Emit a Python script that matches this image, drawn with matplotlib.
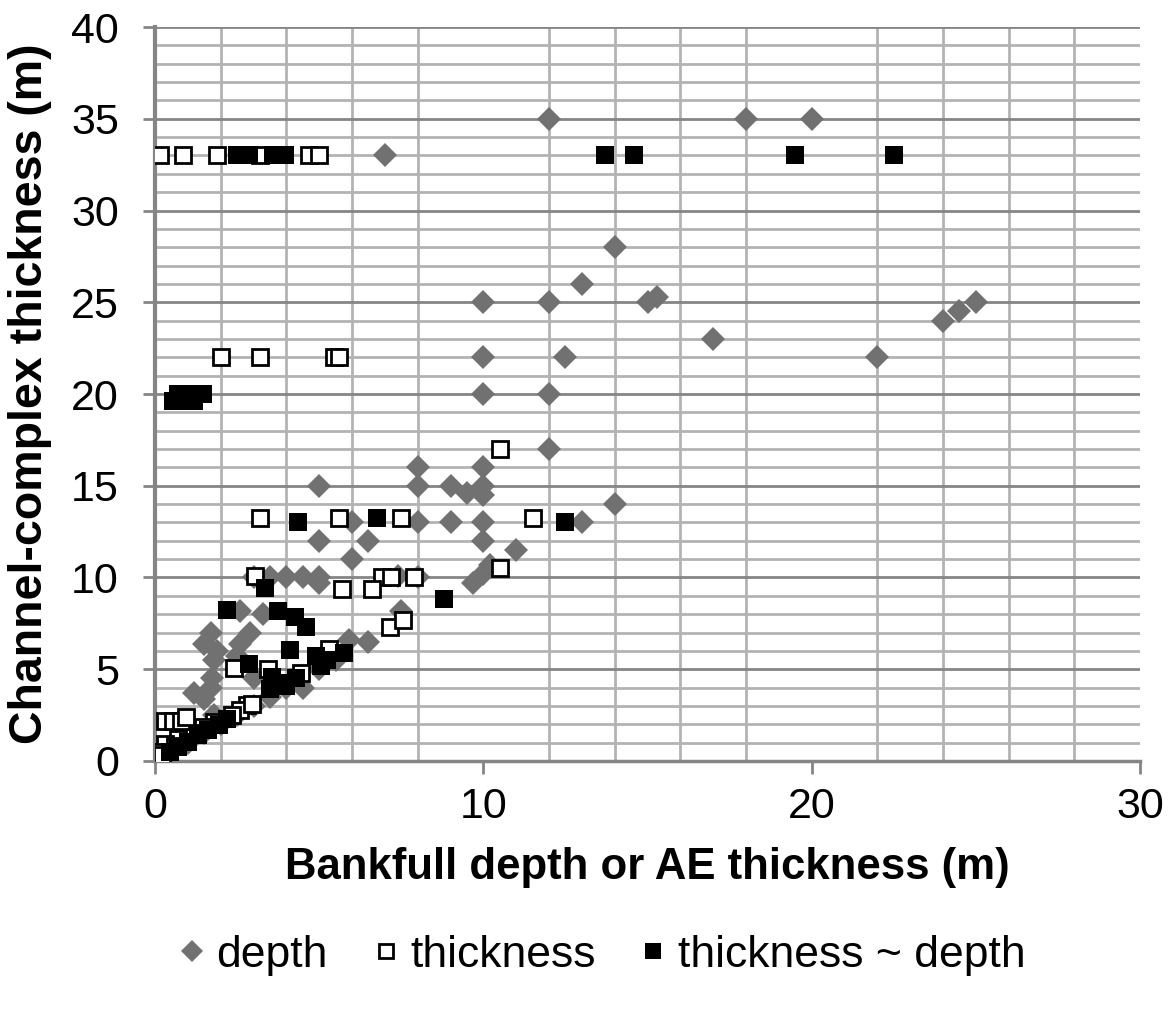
#!/usr/bin/env python3
import matplotlib
matplotlib.use('Agg')
import matplotlib.pyplot as plt
from matplotlib.ticker import MultipleLocator

# depth (grey diamonds)
depth_x = [12, 18, 20, 7, 14, 13, 10, 12, 15, 15.3, 24, 24.5, 25, 17, 10, 12.5, 22,
           10, 12, 12, 8, 10, 5, 8, 9, 9.5, 10, 10, 14, 6, 8, 9, 10, 13, 5, 6.5, 10,
           6, 11, 10.2, 10, 9.7, 3, 3.5, 4, 4.5, 5, 5, 7.4, 8, 7.5, 2.6, 3.3, 1.7,
           2.9, 1.5, 1.9, 2.6, 2.5, 1.8, 1.75, 3.0, 1.2, 1.5, 1.7, 5.9, 6.5, 4.5, 5,
           5.5, 0.2, 0.5, 1, 1.5, 2, 2.5, 3, 3.5, 4, 1.8]
depth_y = [35, 35, 35, 33, 28, 26, 25, 25, 25, 25.3, 24, 24.5, 25, 23, 22, 22, 22,
           20, 20, 17, 16, 16, 15, 15, 15, 14.6, 15, 14.5, 14, 13, 13, 13, 13, 13, 12, 12, 12,
           11, 11.5, 10.7, 10.2, 9.7, 10, 10, 10, 10, 10, 9.7, 10.1, 10, 8.2, 8.2, 8.0, 7.0,
           7.0, 6.4, 6.0, 6.4, 5.7, 5.5, 4.5, 4.5, 3.7, 3.4, 4.0, 6.6, 6.5, 4.0, 5,
           5.5, 0.4, 0.5, 1, 1.5, 2, 2.5, 3, 3.5, 4, 2.5]

# thickness (open squares)
thick_x = [0.15, 0.85, 1.9, 3.2, 4.7, 5.0, 2.0, 3.2, 5.45, 5.6, 10.5, 3.2, 5.6, 7.5,
           11.5, 10.5, 3.05, 6.9, 7.2, 7.9, 5.7, 6.6, 7.15, 7.55, 2.4, 3.45, 5.3, 4.45,
           2.8, 2.6, 2.95, 2.35, 1.8, 1.45, 1.1, 0.7, 0.3, 0.15, 0.2, 0.6, 0.3, 0.55,
           0.8, 0.95]
thick_y = [33, 33, 33, 33, 33, 33, 22, 22, 22, 22, 17, 13.25, 13.25, 13.25,
           13.25, 10.5, 10.1, 10, 10, 10, 9.35, 9.35, 7.3, 7.7, 5.05, 5.0, 6.1, 4.8,
           3.05, 2.8, 3.1, 2.5, 2.1, 1.85, 1.55, 1.2, 0.95, 0.5, 0.3, 0.8, 2.2, 2.2,
           2.2, 2.4]

# thickness ~ depth (black squares)
td_x = [2.5, 2.85, 3.6, 3.95, 13.7, 14.6, 19.5, 22.5, 0.55, 0.7, 0.9, 1.0, 1.2, 1.3,
        1.45, 4.35, 6.75, 12.5, 8.8, 3.35, 2.2, 3.75, 4.25, 4.6, 4.1, 2.85, 4.9, 5.25,
        5.75, 5.05, 3.55, 3.85, 4.3, 3.5, 4.0, 0.45, 0.7, 1.0, 1.3, 1.6, 1.95, 2.2]
td_y = [33, 33, 33, 33, 33, 33, 33, 33, 19.6, 20, 19.6, 20, 19.6, 20,
        20, 13, 13.25, 13, 8.85, 9.4, 8.25, 8.2, 7.85, 7.3, 6.05, 5.3, 5.7, 5.5,
        5.9, 5.15, 4.6, 4.25, 4.5, 3.9, 4.1, 0.5, 0.75, 1.05, 1.4, 1.7, 1.95, 2.3]

plt.rcParams['font.family'] = ['Liberation Sans', 'DejaVu Sans']

fig = plt.figure(figsize=(11.69, 10.13), dpi=100)
ax = fig.add_axes([0.1326, 0.2488, 0.8426, 0.7245])

ax.plot(depth_x, depth_y, 'D', color='#717171', markersize=12.7, markeredgewidth=0,
        label='depth', zorder=3)
ax.plot(thick_x, thick_y, 's', markerfacecolor='white', markeredgecolor='black',
        markersize=11.5, markeredgewidth=2.0, label='thickness', zorder=4)
ax.plot(td_x, td_y, 's', color='black', markersize=13, markeredgewidth=0,
        label='thickness ~ depth', zorder=5)

ax.set_xlim(0, 30)
ax.set_ylim(0, 40)
ax.xaxis.set_major_locator(MultipleLocator(10))
ax.xaxis.set_minor_locator(MultipleLocator(2))
ax.yaxis.set_major_locator(MultipleLocator(5))
ax.yaxis.set_minor_locator(MultipleLocator(1))

ax.grid(which='minor', axis='both', color='#b3b3b3', linewidth=2.0, zorder=0)
ax.grid(which='major', axis='y', color='#858585', linewidth=2.0, zorder=1)
ax.set_axisbelow(True)

for side in ['top', 'right']:
    ax.spines[side].set_visible(False)
ax.spines['left'].set_color('#858585')
ax.spines['left'].set_linewidth(3)
ax.spines['bottom'].set_color('#858585')
ax.spines['bottom'].set_linewidth(2.5)

ax.tick_params(which='major', axis='both', direction='out', length=9, width=2,
               color='#858585', labelsize=31)
ax.tick_params(which='minor', length=0)
ax.tick_params(axis='y', pad=17)
ax.tick_params(axis='x', pad=10)

ax.set_xlabel('Bankfull depth or AE thickness (m)', fontsize=31.5, fontweight='bold',
              labelpad=14)
ax.set_ylabel('Channel-complex thickness (m)', fontsize=33.5, fontweight='bold',
              labelpad=14)

fig.legend(loc='center', bbox_to_anchor=(0.515, 1 - 955 / 1013), ncol=3, frameon=False,
           fontsize=32, markerscale=0.9, handlelength=0.6, handletextpad=0.25,
           columnspacing=1.0)

fig.savefig('out.png', dpi=100)
